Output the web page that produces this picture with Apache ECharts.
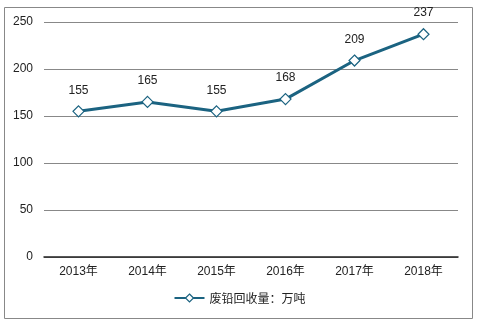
<!DOCTYPE html>
<html><head><meta charset="utf-8">
<script src="https://cdn.jsdelivr.net/npm/echarts@6/dist/echarts.min.js"></script>
<style>html,body{margin:0;padding:0;background:#fff}#c{width:479px;height:325px}</style>
</head><body><div id="c"></div>
<script>
var categories = ['2013年','2014年','2015年','2016年','2017年','2018年'];
var values = [155, 165, 155, 168, 209, 237];
var seriesName = '废铅回收量：万吨';
var chart = echarts.init(document.getElementById('c'));
chart.setOption({
  animation: false,
  textStyle: {fontFamily: 'Liberation Sans, Arial, Noto Sans CJK SC, sans-serif'},
  graphic: [{type: 'rect', shape: {x: 4.5, y: 7.5, width: 468, height: 311}, style: {fill: 'none', stroke: '#888', lineWidth: 1}, silent: true}],
  grid: {left: 44, right: 21, top: 22, bottom: 68, containLabel: false},
  legend: {
    bottom: 16, left: 'center', itemWidth: 30, itemHeight: 10, itemGap: 4,
    textStyle: {fontSize: 12, color: '#222', fontFamily: 'Noto Sans CJK SC, sans-serif'},
    itemStyle: {color: '#fff', borderColor: '#1b6381', borderWidth: 1.2},
    data: [seriesName]
  },
  xAxis: {
    type: 'category', data: categories, boundaryGap: true,
    axisLine: {lineStyle: {color: '#222', width: 1.5}},
    axisTick: {show: false},
    axisLabel: {color: '#222', fontSize: 12, margin: 9}
  },
  yAxis: {
    type: 'value', min: 0, max: 250, interval: 50,
    axisLine: {show: false}, axisTick: {show: false},
    splitLine: {lineStyle: {color: '#888', width: 1}},
    axisLabel: {color: '#222', fontSize: 12, margin: 11}
  },
  series: [{
    name: seriesName, type: 'line', data: values,
    symbol: 'diamond', symbolSize: 11,
    lineStyle: {color: '#1b6381', width: 3},
    itemStyle: {color: '#fff', borderColor: '#1b6381', borderWidth: 1.2},
    label: {show: true, position: 'top', distance: 9, color: '#222', fontSize: 12}
  }]
});
</script></body></html>
